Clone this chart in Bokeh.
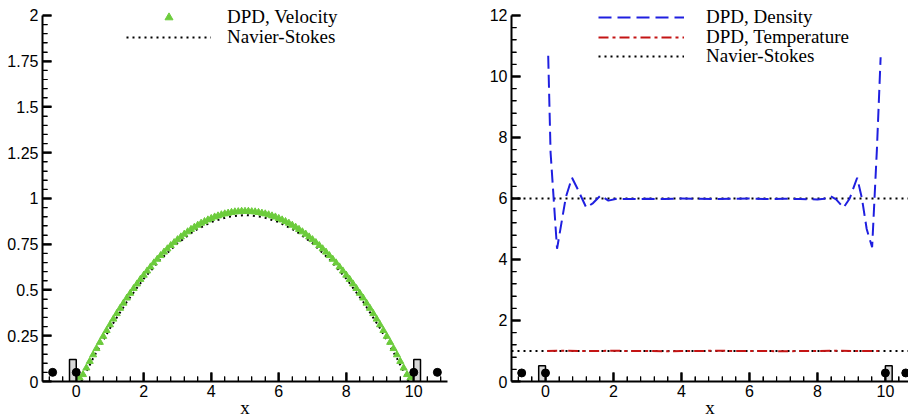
import numpy as np
from bokeh.plotting import figure
from bokeh.layouts import row
from bokeh.models import FixedTicker, CustomJSTickFormatter, Legend, LegendItem
from bokeh.embed import file_html
from bokeh.resources import INLINE

# ---------------- Left panel: velocity ----------------
vel_x = [0.1, 0.2, 0.3, 0.4, 0.5, 0.6, 0.7, 0.8, 0.9, 1.0, 1.1, 1.2, 1.3, 1.4, 1.5,
         1.6, 1.7, 1.8, 1.9, 2.0, 2.1, 2.2, 2.3, 2.4, 2.5, 2.6, 2.7, 2.8, 2.9, 3.0,
         3.1, 3.2, 3.3, 3.4, 3.5, 3.6, 3.7, 3.8, 3.9, 4.0, 4.1, 4.2, 4.3, 4.4, 4.5,
         4.6, 4.7, 4.8, 4.9, 5.0, 5.1, 5.2, 5.3, 5.4, 5.5, 5.6, 5.7, 5.8, 5.9, 6.0,
         6.1, 6.2, 6.3, 6.4, 6.5, 6.6, 6.7, 6.8, 6.9, 7.0, 7.1, 7.2, 7.3, 7.4, 7.5,
         7.6, 7.7, 7.8, 7.9, 8.0, 8.1, 8.2, 8.3, 8.4, 8.5, 8.6, 8.7, 8.8, 8.9, 9.0,
         9.1, 9.2, 9.3, 9.4, 9.5, 9.6, 9.7, 9.8, 9.9]
vel_dpd = [0.02, 0.038, 0.074, 0.110, 0.146, 0.180, 0.214, 0.247, 0.279, 0.310,
           0.341, 0.371, 0.400, 0.428, 0.456, 0.482, 0.508, 0.533, 0.558, 0.581,
           0.604, 0.626, 0.648, 0.668, 0.688, 0.707, 0.725, 0.743, 0.759, 0.775,
           0.790, 0.805, 0.818, 0.831, 0.843, 0.854, 0.865, 0.874, 0.883, 0.891,
           0.899, 0.905, 0.911, 0.916, 0.920, 0.924, 0.927, 0.928, 0.930, 0.930,
           0.930, 0.928, 0.927, 0.924, 0.920, 0.916, 0.911, 0.905, 0.899, 0.891,
           0.883, 0.874, 0.865, 0.854, 0.843, 0.831, 0.818, 0.805, 0.790, 0.775,
           0.759, 0.743, 0.725, 0.707, 0.688, 0.668, 0.648, 0.626, 0.604, 0.581,
           0.558, 0.533, 0.508, 0.482, 0.456, 0.428, 0.400, 0.371, 0.341, 0.310,
           0.279, 0.247, 0.214, 0.180, 0.146, 0.110, 0.074, 0.038, 0.02]
ns_vel_x = [0.15, 0.5, 1.0, 1.5, 2.0, 2.5, 3.0, 3.5, 4.0, 4.5, 5.0, 5.5, 6.0, 6.5,
            7.0, 7.5, 8.0, 8.5, 9.0, 9.5, 9.85]
ns_vel = [0.0, 0.127, 0.291, 0.436, 0.562, 0.668, 0.755, 0.823, 0.871, 0.900, 0.910,
          0.900, 0.871, 0.823, 0.755, 0.668, 0.562, 0.436, 0.291, 0.127, 0.0]
wall_left_l = [-0.2, 10.0]
wall_right_l = [0.0, 10.2]
wall_top_l = [0.12, 0.12]
dots_x_l = [-0.7, 0.0, 10.0, 10.7]
dots_y_l = [0.05, 0.05, 0.05, 0.05]
x_ticks = [0, 2, 4, 6, 8, 10]
y_ticks_l = [0, 0.25, 0.5, 0.75, 1, 1.25, 1.5, 1.75, 2]

# ---------------- Right panel: density / temperature ----------------
dens_x = [0.08, 0.15, 0.34, 0.47, 0.6, 0.78, 0.95, 1.2, 1.4, 1.62, 1.85, 2.1, 2.5,
          3.0, 3.5, 4.0, 4.5, 5.0, 5.5, 6.0, 6.5, 7.0, 7.5, 8.0, 8.2, 8.38, 8.55,
          8.77, 8.95, 9.17, 9.31, 9.45, 9.61, 9.75, 9.86]
dens = [10.68, 7.5, 4.35, 5.2, 6.05, 6.68, 6.3, 5.70, 5.85, 6.10, 5.93, 5.99, 5.98,
        5.99, 5.98, 6.0, 5.99, 5.98, 5.99, 6.0, 5.98, 5.99, 5.98, 5.97, 5.99, 6.08,
        5.97, 5.70, 6.0, 6.68, 6.0, 5.0, 4.40, 7.6, 10.63]
temp_x = [0.05, 0.5, 1.0, 1.5, 2.0, 2.5, 3.0, 3.5, 4.0, 4.5, 5.0, 5.5, 6.0, 6.5,
          7.0, 7.5, 8.0, 8.5, 9.0, 9.5, 9.8]
temp = [1.0, 1.01, 1.0, 1.0, 1.01, 1.0, 1.0, 0.99, 1.0, 1.0, 1.01, 1.0, 1.0, 1.0,
        0.99, 1.0, 1.0, 1.01, 1.0, 1.0, 1.0]
ns_line_x = [-1.0, 11.0]
ns_dens = [6.0, 6.0]
ns_temp = [1.0, 1.0]
wall_left_r = [-0.2, 10.0]
wall_right_r = [0.0, 10.2]
wall_top_r = [0.52, 0.52]
dots_x_r = [-0.7, 0.0, 10.0, 10.6]
dots_y_r = [0.28, 0.28, 0.28, 0.28]
y_ticks_r = [0, 2, 4, 6, 8, 10, 12]

TICK_FONT = "Liberation Sans"
SERIF = "Liberation Serif"
HEIGHT = 420
BORDER_TOP = 0
BORDER_BOTTOM = 38


def minor_between(major, lo, hi, n=5):
    step = (major[1] - major[0]) / n
    vals = np.round(np.arange(major[0] - 5 * n * step, major[-1] + 5 * n * step, step), 6)
    mset = set(np.round(major, 6))
    return [float(v) for v in vals if lo < v < hi and v not in mset]


def make_panel(width, border_left, border_right, xr, yr, xt, yt):
    p = figure(width=width, height=HEIGHT, x_range=xr, y_range=yr,
               output_backend="svg", toolbar_location=None,
               min_border_left=border_left, min_border_right=border_right,
               min_border_top=BORDER_TOP, min_border_bottom=BORDER_BOTTOM)
    p.outline_line_color = None
    p.grid.visible = False
    xm = minor_between(xt, xr[0], xr[1])
    ym = minor_between(yt, yt[0], yt[-1] + 1e-9)
    for ax, ticks, minors, standoff in ((p.xaxis[0], xt, xm, 3), (p.yaxis[0], yt, ym, 4)):
        ax.ticker = FixedTicker(ticks=ticks, minor_ticks=minors)
        ax.formatter = CustomJSTickFormatter(code="return tick.toString();")
        ax.axis_line_width = 2
        ax.axis_line_color = "black"
        ax.major_tick_line_color = "black"
        ax.major_tick_line_width = 2
        ax.minor_tick_line_color = "black"
        ax.minor_tick_line_width = 1
        ax.major_tick_in = 9
        ax.major_tick_out = 0
        ax.minor_tick_in = 5
        ax.minor_tick_out = 0
        ax.major_label_text_font = TICK_FONT
        ax.major_label_text_font_size = "16px"
        ax.major_label_text_color = "black"
        ax.major_label_standoff = standoff
    p.yaxis[0].bounds = (yt[0], yt[-1])
    ax = p.xaxis[0]
    ax.axis_label = "x"
    ax.axis_label_text_font = SERIF
    ax.axis_label_text_font_size = "19px"
    ax.axis_label_text_font_style = "normal"
    ax.axis_label_text_color = "black"
    ax.axis_label_standoff = -3

    # inward tick marks as glyphs too (pixel lengths converted with the frame's scale)
    fw = width - border_left - border_right
    fh = HEIGHT - BORDER_TOP - BORDER_BOTTOM
    ux = (xr[1] - xr[0]) / fw
    uy = (yr[1] - yr[0]) / fh
    xa, ya = xr[0], yr[0]
    p.segment(x0=xt, y0=[ya] * len(xt), x1=xt, y1=[ya + 9 * uy] * len(xt),
              line_color="black", line_width=2)
    p.segment(x0=xm, y0=[ya] * len(xm), x1=xm, y1=[ya + 5 * uy] * len(xm),
              line_color="black", line_width=1.2)
    p.segment(x0=[xa] * len(yt), y0=yt, x1=[xa + 9 * ux] * len(yt), y1=yt,
              line_color="black", line_width=2)
    p.segment(x0=[xa] * len(ym), y0=ym, x1=[xa + 5 * ux] * len(ym), y1=ym,
              line_color="black", line_width=1.2)
    return p


def add_legend_row(p, label, renderer, x, y, glyph_width, standoff):
    leg = Legend(items=[LegendItem(label=label, renderers=[renderer])],
                 location=(x, y), glyph_width=glyph_width, glyph_height=20,
                 label_height=20, label_standoff=standoff, padding=0, margin=0,
                 spacing=0, background_fill_alpha=0, border_line_alpha=0,
                 label_text_font=SERIF, label_text_font_size="19px",
                 label_text_color="black")
    p.add_layout(leg)


# ---------- left figure ----------
p1 = make_panel(455, 42, 8, (-1, 11), (0, 2.0817), x_ticks, y_ticks_l)

ns1 = p1.line(ns_vel_x, ns_vel, line_color="black", line_width=2, line_dash="2 4")
tri = p1.scatter(vel_x, vel_dpd, marker="triangle", size=7, fill_color="#6ccc3c",
                 line_color="#6ccc3c")
p1.quad(left=wall_left_l, right=wall_right_l, bottom=[0, 0], top=wall_top_l,
        fill_color="#d9d9d9", line_color="black", line_width=1.5)
p1.scatter(dots_x_l, dots_y_l, marker="circle", size=8, fill_color="black",
           line_color="black")

add_legend_row(p1, "DPD, Velocity", tri, 84, 353, 85, 16)
add_legend_row(p1, "Navier-Stokes", ns1, 84, 333, 85, 16)

# ---------- right figure ----------
p2 = make_panel(453, 56, 0, (-1, 10.68), (0, 12.49), x_ticks, y_ticks_r)

nsd = p2.line(ns_line_x, ns_dens, line_color="black", line_width=2, line_dash="2 4")
p2.line(ns_line_x, ns_temp, line_color="black", line_width=2, line_dash="2 4")
tl = p2.line(temp_x, temp, line_color="#c41414", line_width=2, line_dash="10 4 3 4")
dl = p2.line(dens_x, dens, line_color="#1f1fe0", line_width=2, line_dash="13 6")
p2.quad(left=wall_left_r, right=wall_right_r, bottom=[0, 0], top=wall_top_r,
        fill_color="#d9d9d9", line_color="black", line_width=1.5)
p2.scatter(dots_x_r, dots_y_r, marker="circle", size=8, fill_color="black",
           line_color="black")

add_legend_row(p2, "DPD, Density", dl, 87, 353, 86, 22)
add_legend_row(p2, "DPD, Temperature", tl, 87, 333, 86, 22)
add_legend_row(p2, "Navier-Stokes", nsd, 87, 314, 86, 22)

layout = row(p1, p2)
open("out.html", "w").write(file_html(layout, INLINE))
